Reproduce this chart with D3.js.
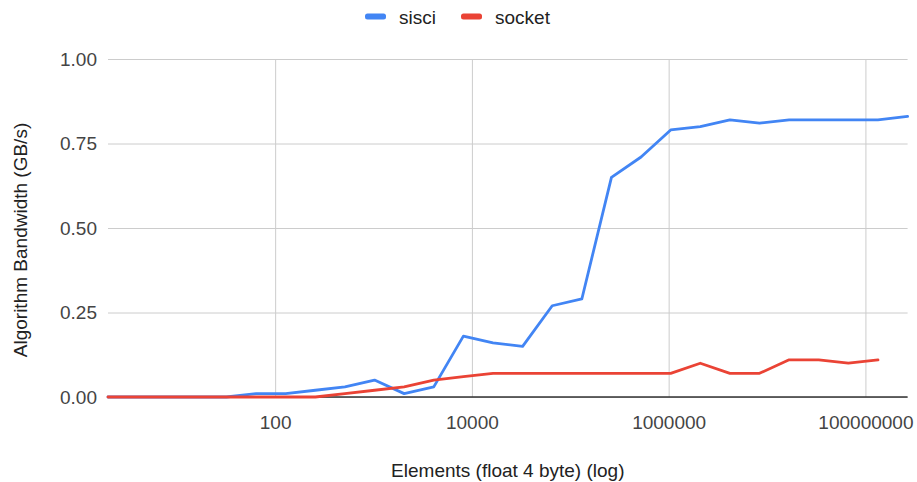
<!DOCTYPE html>
<html>
<head>
<meta charset="utf-8">
<script src="https://cdn.jsdelivr.net/npm/d3@7"></script>
<style>
  html, body { margin: 0; padding: 0; background: #fff; }
  svg { display: block; font-family: "Liberation Sans", Arial, sans-serif; }
</style>
</head>
<body>
<svg id="chart" width="917" height="482"></svg>
<script>
// Message sizes: number of float (4 byte) elements, powers of two
const elements = [
  2, 4, 8, 16, 32, 64, 128, 256, 512, 1024, 2048, 4096, 8192, 16384,
  32768, 65536, 131072, 262144, 524288, 1048576, 2097152, 4194304,
  8388608, 16777216, 33554432, 67108864, 134217728, 268435456
];

// Algorithm bandwidth in GB/s
const sisci = [
  0, 0, 0, 0, 0, 0.01, 0.01, 0.02, 0.03, 0.05, 0.01, 0.03, 0.18, 0.16,
  0.15, 0.27, 0.29, 0.65, 0.71, 0.79, 0.80, 0.82, 0.81, 0.82, 0.82, 0.82,
  0.82, 0.83
];
const socket = [
  0, 0, 0, 0, 0, 0, 0, 0, 0.01, 0.02, 0.03, 0.05, 0.06, 0.07,
  0.07, 0.07, 0.07, 0.07, 0.07, 0.07, 0.10, 0.07, 0.07, 0.11, 0.11, 0.10,
  0.11
];

const seriesNames = ["sisci", "socket"];
const seriesColors = ["#4285F4", "#EA4335"];

const yTickValues = [0, 0.25, 0.5, 0.75, 1.0];
const yTickLabels = ["0.00", "0.25", "0.50", "0.75", "1.00"];
const xTickValues = [100, 10000, 1000000, 100000000];
const xTickLabels = ["100", "10000", "1000000", "100000000"];

const xTitle = "Elements (float 4 byte) (log)";
const yTitle = "Algorithm Bandwidth (GB/s)";

// Layout
const plot = { left: 108, right: 907.6, top: 59, bottom: 397 };
const fontSize = 19;
const fontFamily = "'Liberation Sans', Arial, sans-serif";

const svg = d3.select("#chart");

const x = d3.scaleLog()
  .domain([elements[0], elements[elements.length - 1]])
  .range([plot.left, plot.right]);
const y = d3.scaleLinear()
  .domain([0, 1])
  .range([plot.bottom, plot.top]);

// Horizontal gridlines + y tick labels
const yAxis = d3.axisLeft(y)
  .tickValues(yTickValues)
  .tickFormat((d, i) => yTickLabels[i])
  .tickSize(-(plot.right - plot.left))
  .tickPadding(11);
const gy = svg.append("g")
  .attr("transform", `translate(${plot.left},0)`)
  .call(yAxis);
gy.select(".domain").remove();
gy.selectAll(".tick line").attr("stroke", "#cccccc").attr("stroke-width", 1);
gy.selectAll(".tick text")
  .attr("fill", "#444444")
  .style("font-size", fontSize + "px")
  .style("font-family", fontFamily);

// Vertical gridlines + x tick labels
const xAxis = d3.axisBottom(x)
  .tickValues(xTickValues)
  .tickFormat((d, i) => xTickLabels[i])
  .tickSize(-(plot.bottom - plot.top))
  .tickPadding(19);
const gx = svg.append("g")
  .attr("transform", `translate(0,${plot.bottom})`)
  .call(xAxis);
gx.select(".domain").remove();
gx.selectAll(".tick line").attr("stroke", "#cccccc").attr("stroke-width", 1);
gx.selectAll(".tick text")
  .attr("fill", "#444444")
  .style("font-size", fontSize + "px")
  .style("font-family", fontFamily);

// Baseline
svg.append("line")
  .attr("x1", plot.left).attr("x2", plot.right)
  .attr("y1", y(0)).attr("y2", y(0))
  .attr("stroke", "#333333").attr("stroke-width", 1.5);

// Series lines
const line = d3.line()
  .x(d => x(d[0]))
  .y(d => y(d[1]));

[sisci, socket].forEach((vals, i) => {
  const pts = vals.map((v, j) => [elements[j], v]);
  svg.append("path")
    .datum(pts)
    .attr("fill", "none")
    .attr("stroke", seriesColors[i])
    .attr("stroke-width", 2.8)
    .attr("stroke-linejoin", "round")
    .attr("stroke-linecap", "round")
    .attr("d", line);
});

// Legend
const legendItems = [
  { name: seriesNames[0], color: seriesColors[0], x: 365 },
  { name: seriesNames[1], color: seriesColors[1], x: 461 }
];
const lg = svg.append("g");
legendItems.forEach(it => {
  lg.append("rect")
    .attr("x", it.x).attr("y", 13.5)
    .attr("width", 21).attr("height", 6)
    .attr("rx", 2.5)
    .attr("fill", it.color);
  lg.append("text")
    .attr("x", it.x + 34).attr("y", 23.5)
    .attr("fill", "#222222")
    .style("font-size", fontSize + "px")
    .text(it.name);
});

// Axis titles
svg.append("text")
  .attr("x", (plot.left + plot.right) / 2)
  .attr("y", 476.5)
  .attr("text-anchor", "middle")
  .attr("fill", "#222222")
  .style("font-size", fontSize + "px")
  .text(xTitle);

svg.append("text")
  .attr("transform", `translate(27,240) rotate(-90)`)
  .attr("text-anchor", "middle")
  .attr("fill", "#222222")
  .style("font-size", fontSize + "px")
  .text(yTitle);
</script>
</body>
</html>
